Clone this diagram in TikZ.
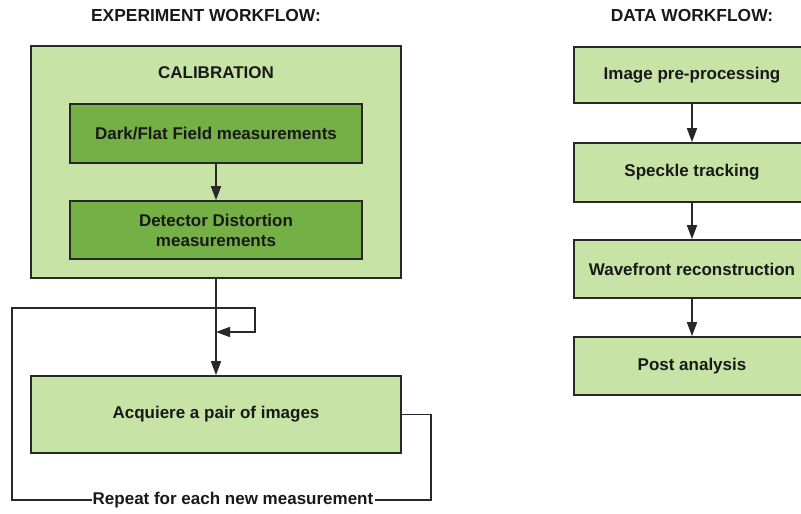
\documentclass[tikz,border=0pt]{standalone}
\usepackage{fontspec}
\setmainfont{Liberation Sans}
\usetikzlibrary{arrows.meta,positioning}
\definecolor{lightgreen}{RGB}{199,228,166}
\definecolor{darkgreen}{RGB}{116,176,70}
\definecolor{edge}{RGB}{40,40,40}
\tikzset{
  box/.style={draw=edge,line width=1.7pt,fill=lightgreen,align=center,font=\bfseries\fontsize{17}{20}\selectfont,text=black!90},
  innerbox/.style={box,fill=darkgreen,minimum width=292pt},
  databox/.style={box,minimum width=236pt,minimum height=58pt},
  heading/.style={font=\bfseries\fontsize{17.4}{20}\selectfont,text=black!90},
  link/.style={draw=edge,line width=1.7pt},
  tip/.style={-{Triangle[length=14pt,width=10pt]}},
}
\begin{document}
\begin{tikzpicture}[x=1pt,y=-1pt]
\clip (0,0) rectangle (801,514);
\useasboundingbox (0,0) rectangle (801,514);
\node[heading] (exptitle) at (206,16) {EXPERIMENT WORKFLOW:};
\node[heading] (datatitle) at (692,16) {DATA WORKFLOW:};

\node[box,minimum width=370pt,minimum height=232pt] (cal) at (216,162) {};
\node[heading,font=\bfseries\fontsize{17}{20}\selectfont] (caltitle) at (216,73) {CALIBRATION};
\node[innerbox,minimum height=59pt] (dark) at (216,133.5) {Dark/Flat Field measurements};
\node[innerbox,minimum height=58pt] (dist) at (216,230) {Detector Distortion\\measurements};
\node[box,minimum width=370pt,minimum height=77pt] (acq) at (216,414.5) {Acquiere a pair of images};
\node[heading,inner sep=1pt,font=\bfseries\fontsize{17}{20}\selectfont] (rep) at (233,500) {Repeat for each new measurement};

\coordinate (loopa) at (12,308);
\coordinate (loopb) at (255,332);

\draw[link,tip] (dark) -- (dist);
\draw[link,tip] (cal) -- (acq);
\draw[link] (acq.east) -- ++(29,0) |- (rep.east);
\draw[link,tip] (rep.west) -| (loopa) -| (loopb) -- (cal.south |- loopb);

\node[databox,minimum height=56pt] (pre) at (692,75) {Image pre-processing};
\node[databox,minimum height=59pt] (track) at (692,172.5) {Speckle tracking};
\node[databox] (wave) at (692,269) {Wavefront reconstruction};
\node[databox] (post) at (692,366) {Post analysis};

\draw[link,tip] (pre) -- (track);
\draw[link,tip] (track) -- (wave);
\draw[link,tip] (wave) -- (post);
\end{tikzpicture}
\end{document}
